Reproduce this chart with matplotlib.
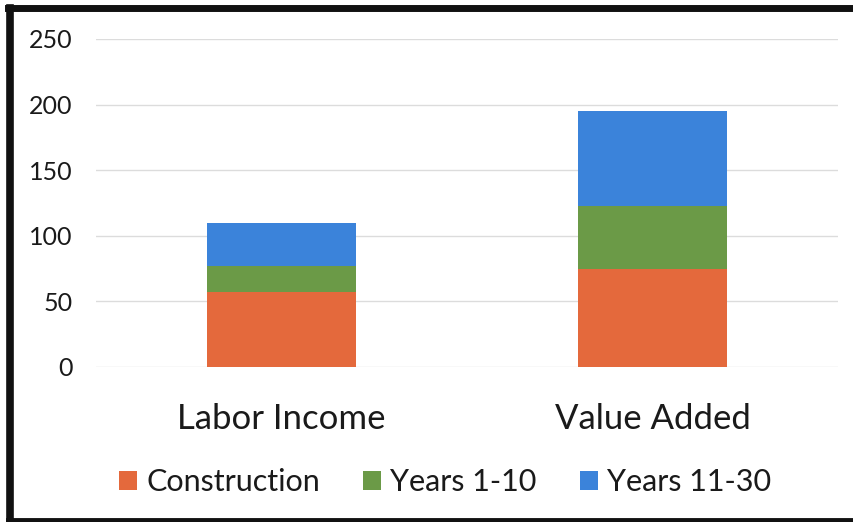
import matplotlib
matplotlib.use("Agg")
import matplotlib.pyplot as plt
from matplotlib.patches import Patch
from matplotlib.lines import Line2D
import numpy as np

categories = ["Labor Income", "Value Added"]
series_names = ["Construction", "Years 1-10", "Years 11-30"]
construction = [57, 75]
years_1_10 = [20, 48]
years_11_30 = [33, 72]
yticks = [0, 50, 100, 150, 200, 250]

colors = ["#E4693C", "#6B9A47", "#3B83DA"]

plt.rcParams['font.family'] = ['Lato', 'DejaVu Sans']

fig = plt.figure(figsize=(8.54, 5.22), dpi=100)
ax = fig.add_axes([96/854, 155/522, (838-96)/854, (367-39)/522])

x = np.arange(len(categories))
bottom = np.zeros(len(categories))
handles = []
for name, vals, c in zip(series_names, [construction, years_1_10, years_11_30], colors):
    ax.bar(x, vals, width=0.4, bottom=bottom, color=c, zorder=3)
    bottom += np.array(vals)
    handles.append(Patch(facecolor=c, edgecolor='none'))

ax.set_xlim(-0.5, 1.5)
ax.set_ylim(0, 250)
ax.set_yticks(yticks)
ax.set_yticklabels([str(t) for t in yticks], fontsize=18, color="#1a1a1a")
ax.set_xticks(x)
ax.set_xticklabels(categories, fontsize=25, color="#1a1a1a")
ax.tick_params(axis='y', length=0, pad=17)
ax.tick_params(axis='x', length=0, pad=26)
ax.grid(axis='y', color="#dcdcdc", linewidth=1, zorder=0)
for s in ax.spines.values():
    s.set_visible(False)

fig.legend(handles, series_names, loc='center', bbox_to_anchor=(445/854, 1 - 482/522),
           ncol=3, frameon=False, fontsize=22, handlelength=0.6, handleheight=0.6,
           columnspacing=1.4, handletextpad=0.3, labelcolor="#1a1a1a")

# scanned border
fig.add_artist(Line2D([10.5/854, 10.5/854], [0, 1 - 8/522], transform=fig.transFigure, color='#111111', linewidth=5.5))
fig.add_artist(Line2D([8/854, 1], [1 - 8/522, 1 - 8/522], transform=fig.transFigure, color='#111111', linewidth=5))
fig.add_artist(Line2D([8/854, 1], [2/522, 2/522], transform=fig.transFigure, color='#111111', linewidth=3.5))

fig.savefig("out.png", dpi=100, facecolor="white")
